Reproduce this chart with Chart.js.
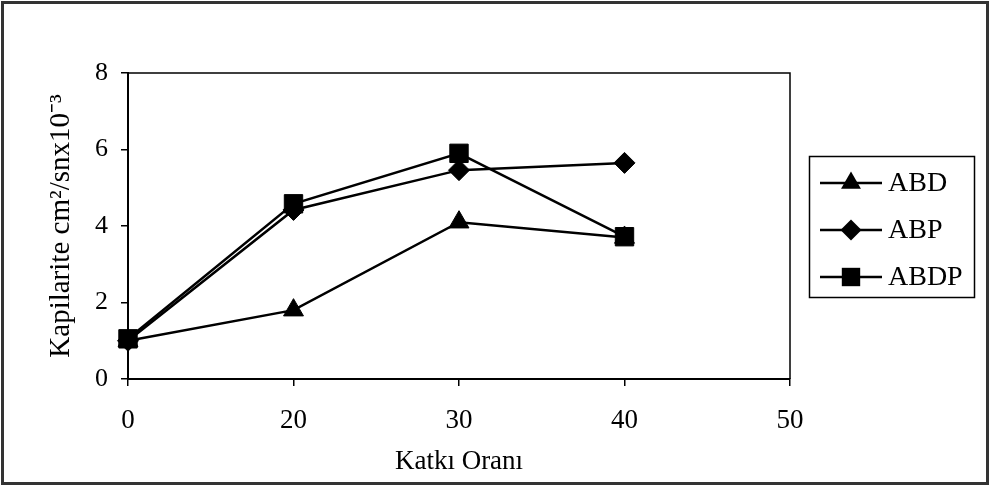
<!DOCTYPE html>
<html>
<head>
<meta charset="utf-8">
<script src="https://cdn.jsdelivr.net/npm/chart.js@4/dist/chart.umd.min.js"></script>
<style>
  html, body { margin: 0; padding: 0; background: #fff; }
  #wrap { position: relative; width: 996px; height: 487px; }
</style>
</head>
<body>
<div id="wrap"><canvas id="c" width="996" height="487"></canvas></div>
<script>
const categories = ['0', '20', '30', '40', '50'];
const seriesNames = ['ABD', 'ABP', 'ABDP'];
const abd = [1.0, 1.8, 4.1, 3.7];
const abp = [1.0, 4.42, 5.46, 5.65];
const abdp = [1.05, 4.58, 5.9, 3.72];
const yTicks = [0, 2, 4, 6, 8];

const FONT = '"Liberation Serif", "Times New Roman", serif';

function drawMarker(ctx, style, x, y, r) {
  ctx.beginPath();
  if (style === 'triangle') {
    for (let i = 0; i < 3; i++) {
      const a = i * 2 * Math.PI / 3;
      const px = x + Math.sin(a) * r, py = y - Math.cos(a) * r;
      if (i === 0) ctx.moveTo(px, py); else ctx.lineTo(px, py);
    }
    ctx.closePath();
  } else if (style === 'rectRot') {
    ctx.moveTo(x - r, y); ctx.lineTo(x, y - r); ctx.lineTo(x + r, y); ctx.lineTo(x, y + r);
    ctx.closePath();
  } else {
    const s = Math.SQRT1_2 * r;
    ctx.rect(x - s, y - s, 2 * s, 2 * s);
  }
  ctx.fill();
}

const framePlugin = {
  id: 'framePlugin',
  afterDraw(chart) {
    const ctx = chart.ctx;
    const a = chart.chartArea;
    ctx.save();
    ctx.strokeStyle = '#000';
    ctx.lineWidth = 1.5;
    ctx.beginPath();
    ctx.moveTo(a.left, a.top); ctx.lineTo(a.right, a.top); ctx.lineTo(a.right, a.bottom);
    ctx.stroke();
    ctx.strokeStyle = '#333';
    ctx.lineWidth = 3;
    ctx.strokeRect(2.5, 2.5, 985, 481);
    ctx.strokeStyle = '#000';
    ctx.lineWidth = 1.5;
    ctx.strokeRect(809.5, 156.5, 165, 141);
    const rows = [183, 230, 277];
    chart.data.datasets.forEach((ds, i) => {
      const y = rows[i];
      ctx.strokeStyle = '#000';
      ctx.lineWidth = 2.5;
      ctx.beginPath(); ctx.moveTo(820, y); ctx.lineTo(882, y); ctx.stroke();
      ctx.fillStyle = '#000';
      drawMarker(ctx, ds.pointStyle, 851, y, ds.pointRadius);
      ctx.font = '28px ' + FONT;
      ctx.textBaseline = 'middle';
      ctx.textAlign = 'left';
      ctx.fillText(ds.label, 888, y + 1);
    });
    ctx.restore();
  }
};

new Chart(document.getElementById('c'), {
  type: 'line',
  data: {
    labels: categories,
    datasets: [
      { label: seriesNames[0], data: abd, pointStyle: 'triangle', pointRadius: 11.5, order: 2 },
      { label: seriesNames[1], data: abp, pointStyle: 'rectRot', pointRadius: 10.5, order: 1 },
      { label: seriesNames[2], data: abdp, pointStyle: 'rect', pointRadius: 13, order: 0 }
    ].map(d => Object.assign({
      borderColor: '#000', backgroundColor: '#000', borderWidth: 2.5,
      pointBackgroundColor: '#000', pointBorderColor: '#000', pointBorderWidth: 1,
      pointHoverRadius: d.pointRadius, tension: 0, fill: false
    }, d))
  },
  options: {
    responsive: false,
    animation: false,
    events: [],
    layout: { padding: { left: 0, top: 73, right: 206, bottom: 0 } },
    plugins: { legend: { display: false }, tooltip: { enabled: false } },
    scales: {
      x: {
        type: 'category',
        offset: false,
        afterFit: (s) => { s.height = 108; },
        grid: { display: true, drawOnChartArea: false, drawTicks: true, tickLength: 7, color: '#000', lineWidth: 1.5 },
        border: { display: true, color: '#000', width: 2 },
        ticks: { color: '#000', font: { family: FONT, size: 27 }, padding: 19, maxRotation: 0, autoSkip: false },
        title: { display: true, text: 'Katkı Oranı', color: '#000', font: { family: FONT, size: 27 }, padding: { top: 0, bottom: 9 } }
      },
      y: {
        min: 0, max: 8,
        afterFit: (s) => { s.width = 128; },
        afterBuildTicks: (s) => { s.ticks = yTicks.map(v => ({ value: v })); },
        grid: { display: true, drawOnChartArea: false, drawTicks: true, tickLength: 7, color: '#000', lineWidth: 1.5 },
        border: { display: true, color: '#000', width: 2 },
        ticks: { color: '#000', font: { family: FONT, size: 26 }, padding: 13 },
        title: { display: true, text: 'Kapilarite cm²/snx10⁻³', color: '#000', font: { family: FONT, size: 29 }, padding: { top: 44, bottom: 0 } }
      }
    }
  },
  plugins: [framePlugin]
});
</script>
</body>
</html>
